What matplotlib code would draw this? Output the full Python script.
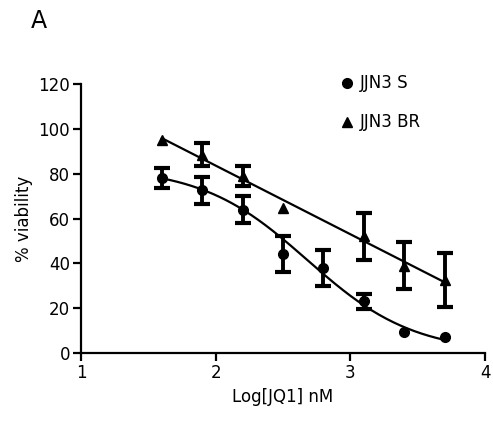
import numpy as np
import matplotlib
matplotlib.use('Agg')
import matplotlib.pyplot as plt

# log10 of JQ1 dose (nM) and mean % viability with SEM
log_dose_s = [1.6, 1.9, 2.2, 2.5, 2.8, 3.1, 3.4, 3.7]
viab_s = [78, 72.5, 64, 44, 38, 23, 9.5, 7]
err_s = [4.6, 6.0, 6.0, 8.0, 8.0, 3.2, 0, 0]

log_dose_br = [1.6, 1.9, 2.2, 2.5, 3.1, 3.4, 3.7]
viab_br = [95, 88.5, 79, 64.5, 52, 39, 32.5]
err_br = [0, 5.0, 4.5, 0, 10.5, 10.4, 12.0]

# dose-response fit for the sensitive line (top, bottom, logIC50, hill)
fit_s = (83.0, 0.0, 2.68, 1.1)

plt.rcParams['font.family'] = ['DejaVu Sans']


def plot_points(ax, x, y, err, marker):
    x, y, err = np.asarray(x), np.asarray(y), np.asarray(err)
    has_err = err > 0
    ax.errorbar(x[has_err], y[has_err], yerr=err[has_err], fmt='none', ecolor='black',
                elinewidth=2.8, capsize=6, capthick=3, clip_on=False, zorder=3)
    ax.plot(x, y, marker, color='black', ms=7, ls='none', clip_on=False, zorder=4)


fig = plt.figure(figsize=(4.93, 4.21), dpi=100)
ax = fig.add_axes([81 / 493, 1 - 353 / 421, 404 / 493, 269 / 421])

xs = np.linspace(min(log_dose_s), max(log_dose_s), 200)
top, bottom, logic50, hill = fit_s
ax.plot(xs, bottom + (top - bottom) / (1 + 10 ** ((xs - logic50) * hill)),
        color='black', lw=1.6)

xb = np.linspace(min(log_dose_br), max(log_dose_br), 200)
slope, icpt = np.polyfit(log_dose_br, viab_br, 1)
ax.plot(xb, slope * xb + icpt, color='black', lw=1.6)

plot_points(ax, log_dose_s, viab_s, err_s, 'o')
plot_points(ax, log_dose_br, viab_br, err_br, '^')

# legend drawn by hand, no frame
ax.plot(0.658, 1.005, 'o', color='black', ms=7, transform=ax.transAxes, clip_on=False)
ax.text(0.69, 1.005, 'JJN3 S', fontsize=12, va='center', transform=ax.transAxes)
ax.plot(0.658, 0.86, '^', color='black', ms=7, transform=ax.transAxes, clip_on=False)
ax.text(0.69, 0.86, 'JJN3 BR', fontsize=12, va='center', transform=ax.transAxes)

ax.set_xlim(1, 4)
ax.set_ylim(0, 120)
ax.set_xticks([1, 2, 3, 4])
ax.set_yticks([0, 20, 40, 60, 80, 100, 120])
ax.spines['top'].set_visible(False)
ax.spines['right'].set_visible(False)
for s in ('left', 'bottom'):
    ax.spines[s].set_linewidth(1.6)
ax.tick_params(direction='out', length=6, width=1.6, labelsize=12, pad=2)

ax.set_xlabel('Log[JQ1] nM', fontsize=12, labelpad=4)
ax.set_ylabel('% viability', fontsize=12, labelpad=4)

fig.text(39 / 493, 1 - 21 / 421, 'A', fontsize=17, ha='center', va='center')

fig.savefig('out.png', dpi=100)
